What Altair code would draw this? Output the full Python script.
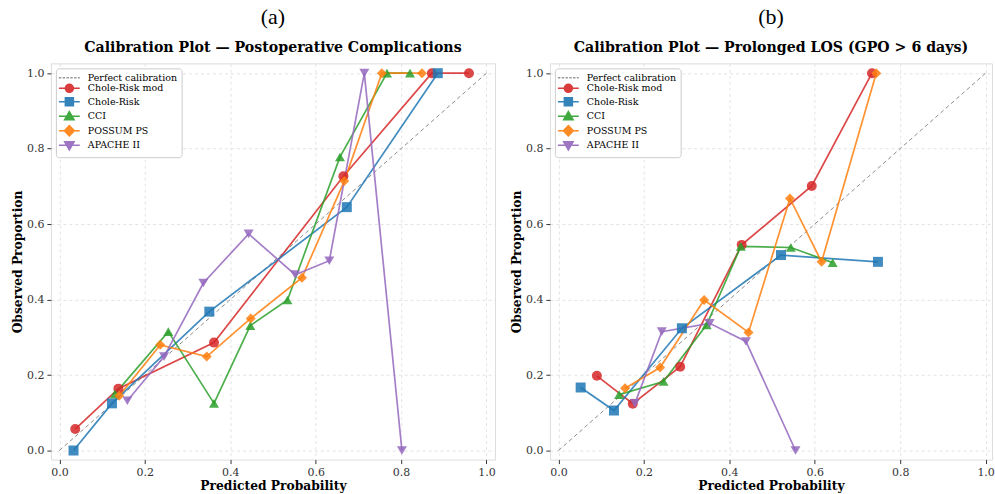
import altair as alt
import pandas as pd

SERIES = ["Chole-Risk mod", "Chole-Risk", "CCI", "POSSUM PS", "APACHE II"]
LEGEND_LABELS = ["Perfect calibration"] + SERIES
COLORS = ["#d62728", "#1f77b4", "#2ca02c", "#ff7f0e", "#9467bd"]
DIAG_COLOR = "#8c8c8c"
SHAPES = ["circle", "square", "triangle-up", "diamond", "triangle-down"]
TICKS = [0.0, 0.2, 0.4, 0.6, 0.8, 1.0]

# legend symbols: line + marker (custom paths)
LEG_PATHS = [
    "M-2.2,0H-1.7M-1.4,0H-0.9M-0.6,0H-0.1M0.2,0H0.7M1.0,0H1.5M1.8,0H2.2",
    "M-2.2,0H2.2M0.85,0A0.85,0.85,0,1,1,-0.85,0A0.85,0.85,0,1,1,0.85,0Z",
    "M-2.2,0H2.2M-0.85,-0.85H0.85V0.85H-0.85Z",
    "M-2.2,0H2.2M0,-1.0L1.0,0.75L-1.0,0.75Z",
    "M-2.2,0H2.2M0,-1.1L1.05,0L0,1.1L-1.05,0Z",
    "M-2.2,0H2.2M0,1.0L1.0,-0.75L-1.0,-0.75Z",
]

# Panel (a): Postoperative complications
A_MOD_X = [0.037, 0.138, 0.362, 0.665, 0.872, 0.959]
A_MOD_Y = [0.057, 0.164, 0.286, 0.727, 1.0, 1.0]
A_CR_X = [0.033, 0.123, 0.351, 0.673, 0.886]
A_CR_Y = [0.0, 0.125, 0.368, 0.645, 1.0]
A_CCI_X = [0.130, 0.255, 0.362, 0.447, 0.534, 0.657, 0.767, 0.821]
A_CCI_Y = [0.150, 0.315, 0.125, 0.331, 0.399, 0.778, 1.0, 1.0]
A_POS_X = [0.140, 0.236, 0.345, 0.448, 0.568, 0.667, 0.755, 0.849]
A_POS_Y = [0.145, 0.280, 0.249, 0.350, 0.458, 0.714, 1.0, 1.0]
A_APA_X = [0.159, 0.245, 0.337, 0.443, 0.552, 0.632, 0.714, 0.802]
A_APA_Y = [0.132, 0.249, 0.444, 0.574, 0.466, 0.503, 1.0, 0.0]

# Panel (b): Prolonged LOS
B_MOD_X = [0.090, 0.174, 0.285, 0.429, 0.593, 0.734]
B_MOD_Y = [0.198, 0.124, 0.222, 0.545, 0.701, 1.0]
B_CR_X = [0.052, 0.130, 0.289, 0.521, 0.748]
B_CR_Y = [0.167, 0.106, 0.324, 0.518, 0.500]
B_CCI_X = [0.142, 0.246, 0.347, 0.427, 0.544, 0.642]
B_CCI_Y = [0.148, 0.183, 0.333, 0.541, 0.538, 0.498]
B_POS_X = [0.156, 0.238, 0.341, 0.445, 0.542, 0.616, 0.744]
B_POS_Y = [0.165, 0.220, 0.399, 0.313, 0.668, 0.500, 1.0]
B_APA_X = [0.179, 0.242, 0.354, 0.439, 0.555]
B_APA_Y = [0.125, 0.315, 0.337, 0.289, 0.0]

SERIF = "DejaVu Serif"


def make_panel(xs_list, ys_list, letter, subtitle, width, xmax):
    rows = []
    for s, xs, ys in zip(SERIES, xs_list, ys_list):
        for i, (x, y) in enumerate(zip(xs, ys)):
            rows.append({"series": s, "x": x, "y": y, "idx": i})
    df = pd.DataFrame(rows)
    diag = pd.DataFrame({"x": [0.0, 1.0], "y": [0.0, 1.0]})
    leg = pd.DataFrame({"label": LEGEND_LABELS, "x": [0.0] * 6, "y": [0.0] * 6})

    xscale = alt.Scale(domain=[-0.02, xmax], nice=False, zero=False)
    yscale = alt.Scale(domain=[-0.024, 1.026], nice=False, zero=False)
    axis_common = dict(
        values=TICKS, format=".1f", grid=True, gridDash=[3, 3], gridColor="#dcdcdc",
        gridWidth=0.8, domain=False, tickColor="#333333", tickSize=4, tickWidth=1,
        labelFont=SERIF, labelFontSize=11, labelColor="#333333", labelPadding=3,
        titleFont=SERIF, titleFontSize=12.3, titleFontWeight="bold", titleColor="black",
    )
    X = alt.X("x:Q", scale=xscale, axis=alt.Axis(title="Predicted Probability", titlePadding=2, **axis_common))
    Y = alt.Y("y:Q", scale=yscale, axis=alt.Axis(title="Observed Proportion", titlePadding=2, **axis_common))

    col_scale = alt.Scale(domain=SERIES, range=COLORS)

    diag_layer = alt.Chart(diag).mark_line(color=DIAG_COLOR, strokeDash=[4, 3], strokeWidth=1).encode(x=X, y=Y)
    lines = alt.Chart(df).mark_line(strokeWidth=1.7, opacity=0.85).encode(
        x=X, y=Y, color=alt.Color("series:N", scale=col_scale, legend=None),
        detail="series:N", order="idx:Q",
    )
    pts = []
    for s, shp in zip(SERIES, SHAPES):
        pts.append(
            alt.Chart(df).transform_filter(alt.datum.series == s)
            .mark_point(filled=True, size=100, opacity=0.85, shape=shp)
            .encode(x=X, y=Y, color=alt.Color("series:N", scale=col_scale, legend=None))
        )

    legend = alt.Legend(
        title=None, orient="top-left", offset=5, padding=4, fillColor="white",
        strokeColor="#cccccc", cornerRadius=3, labelFont=SERIF, labelFontSize=9.5,
        labelColor="black", symbolSize=90, symbolStrokeWidth=1.5, symbolOffset=4,
        labelOffset=13, rowPadding=-1.5, symbolOpacity=0.9,
    )
    leg_dom = LEGEND_LABELS
    leg_layer = (
        alt.Chart(leg).transform_filter(alt.datum.x > 5)
        .mark_point(filled=True)
        .encode(
            x=X, y=Y,
            fill=alt.Fill("label:N", scale=alt.Scale(domain=leg_dom, range=[DIAG_COLOR] + COLORS), legend=legend),
            stroke=alt.Stroke("label:N", scale=alt.Scale(domain=leg_dom, range=[DIAG_COLOR] + COLORS), legend=legend),
            shape=alt.Shape("label:N", scale=alt.Scale(domain=leg_dom, range=LEG_PATHS), legend=legend),
        )
    )

    return alt.layer(diag_layer, lines, *pts, leg_layer).properties(
        width=width, height=397,
        title=alt.TitleParams(
            text=letter, subtitle=subtitle, font="Liberation Serif", fontSize=22,
            fontWeight="normal", color="black", subtitleFont=SERIF, subtitleFontSize=14.2,
            subtitleFontWeight="bold", subtitleColor="black", subtitlePadding=12,
            anchor="middle", offset=7,
        ),
    )


pa = make_panel([A_MOD_X, A_CR_X, A_CCI_X, A_POS_X, A_APA_X],
                [A_MOD_Y, A_CR_Y, A_CCI_Y, A_POS_Y, A_APA_Y],
                "(a)", "Calibration Plot — Postoperative Complications", 445, 1.02)
pb = make_panel([B_MOD_X, B_CR_X, B_CCI_X, B_POS_X, B_APA_X],
                [B_MOD_Y, B_CR_Y, B_CCI_Y, B_POS_Y, B_APA_Y],
                "(b)", "Calibration Plot — Prolonged LOS (GPO > 6 days)", 443, 1.015)

chart = (
    alt.hconcat(pa, pb, spacing=14)
    .resolve_scale(color="independent", fill="independent", stroke="independent", shape="independent")
    .resolve_legend(color="independent", fill="independent", stroke="independent", shape="independent")
    .properties(padding={"left": 11, "top": 5, "right": 0, "bottom": 0})
    .configure_view(stroke="#333333", strokeWidth=1.3)
    .configure(background="white")
)

chart.save("out.html", embed_options={"renderer": "svg", "actions": False})
